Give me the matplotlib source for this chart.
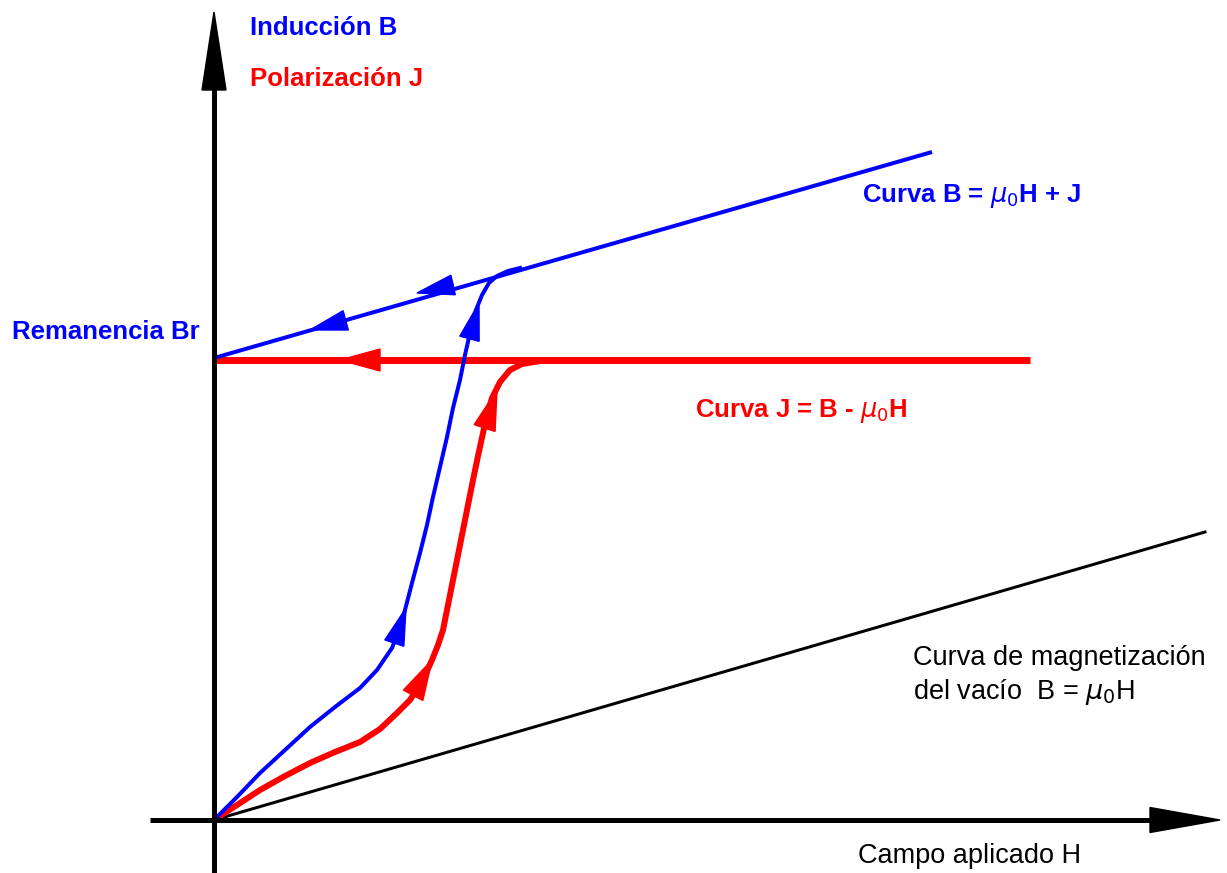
import matplotlib
matplotlib.use("Agg")
import matplotlib.pyplot as plt

# ---- data (H, B/J in diagram units; origin at the axes crossing) ----
blue_H = [0, 23, 46, 71, 96, 121, 146, 163, 178, 186, 191, 198, 206, 213, 219, 226,
          233, 239, 246, 251, 256, 262, 268, 275, 283, 294, 306]
blue_B = [0, 23, 47, 70, 93, 113, 132, 150, 172, 192, 210, 237, 267, 295, 323, 353,
          383, 412, 440, 465, 487, 510, 525, 537, 544, 549, 552]

upper_H = [0, 718]          # B = mu0 H + J line (return branch)
upper_B = [462, 668]

red_H = [0, 23, 46, 71, 96, 121, 146, 166, 183, 196, 208, 218, 224, 229, 234, 239,
         244, 249, 254, 259, 264, 269, 273, 278, 286, 296, 308, 326]
red_J = [0, 15, 30, 44, 57, 68, 78, 91, 107, 120, 138, 160, 175, 190, 215, 240,
         265, 290, 315, 340, 364, 387, 405, 422, 438, 450, 456, 459]

flat_H = [0, 816]           # J saturation line
flat_J = [460, 460]

vac_H = [0, 991]            # vacuum B = mu0 H
vac_B = [0, 288]

# arrowheads: (tail_x, tail_y, tip_x, tip_y)
blue_arrows = [(178, 170, 192, 212), (257, 487, 265, 517),
               (230, 533, 203, 527), (133, 500, 96, 490)]
red_arrows = [(195, 117, 218, 160), (269, 387, 283, 430), (164, 460, 126, 460)]

BLUE = "#0000ff"
RED = "#ff0000"

fig = plt.figure(figsize=(12.27, 8.73), dpi=100)
ax = fig.add_axes([0, 0, 1, 1])
ax.set_xlim(-214, 1013)
ax.set_ylim(-53, 820)
ax.axis("off")

px = 0.72  # one pixel in points

# axes with arrows
ax.plot([-64, 940], [0, 0], color="black", lw=5 * px, solid_capstyle="butt", zorder=5)
ax.arrow(936, 0, 70, 0, width=0, head_width=25, head_length=70,
         length_includes_head=True, color="black", zorder=5)
ax.plot([0, 0], [-53, 735], color="black", lw=5 * px, solid_capstyle="butt", zorder=5)
ax.arrow(0, 730, 0, 78, width=0, head_width=24, head_length=78,
         length_includes_head=True, color="black", zorder=5)

# curves
ax.plot(vac_H, vac_B, color="black", lw=3 * px, zorder=3)
ax.plot(flat_H, flat_J, color=RED, lw=7 * px, zorder=3, solid_capstyle="butt")
ax.plot(upper_H, upper_B, color=BLUE, lw=4 * px, zorder=4, solid_capstyle="butt")
ax.plot(red_H, red_J, color=RED, lw=6 * px, zorder=3, solid_joinstyle="round")
ax.plot(blue_H, blue_B, color=BLUE, lw=4 * px, zorder=4, solid_joinstyle="round")

for (x0, y0, x1, y1) in blue_arrows:
    ax.arrow(x0, y0, x1 - x0, y1 - y0, width=0, head_width=20, head_length=37,
             length_includes_head=True, color=BLUE, zorder=6)
for (x0, y0, x1, y1) in red_arrows:
    ax.arrow(x0, y0, x1 - x0, y1 - y0, width=0, head_width=22, head_length=40,
             length_includes_head=True, color=RED, zorder=6)

fam = ["Liberation Sans", "DejaVu Sans"]
bold = dict(family=fam, fontweight="bold", fontsize=18.5, va="center", ha="left")
reg = dict(family=fam, fontsize=19.5, va="center", ha="left", color="black")

def T(x, y, s, **kw):
    ax.text(x - 214, 820 - y, s, **kw)

T(250, 28, "Inducción B", color=BLUE, **bold)
T(250, 79, "Polarización J", color=RED, **bold)
T(12, 332, "Remanencia Br", color=BLUE, **bold)
T(862, 196, r"Curva B = $\mu_0$H + J", color=BLUE, **bold)
T(695, 411, r"Curva J = B - $\mu_0$H", color=RED, **bold)
T(913, 658, "Curva de magnetización", **reg)
T(913, 692, r"del vacío  B = $\mu_0$H", **reg)
T(858, 856, "Campo aplicado H", **reg)

fig.savefig("out.png", dpi=100)
